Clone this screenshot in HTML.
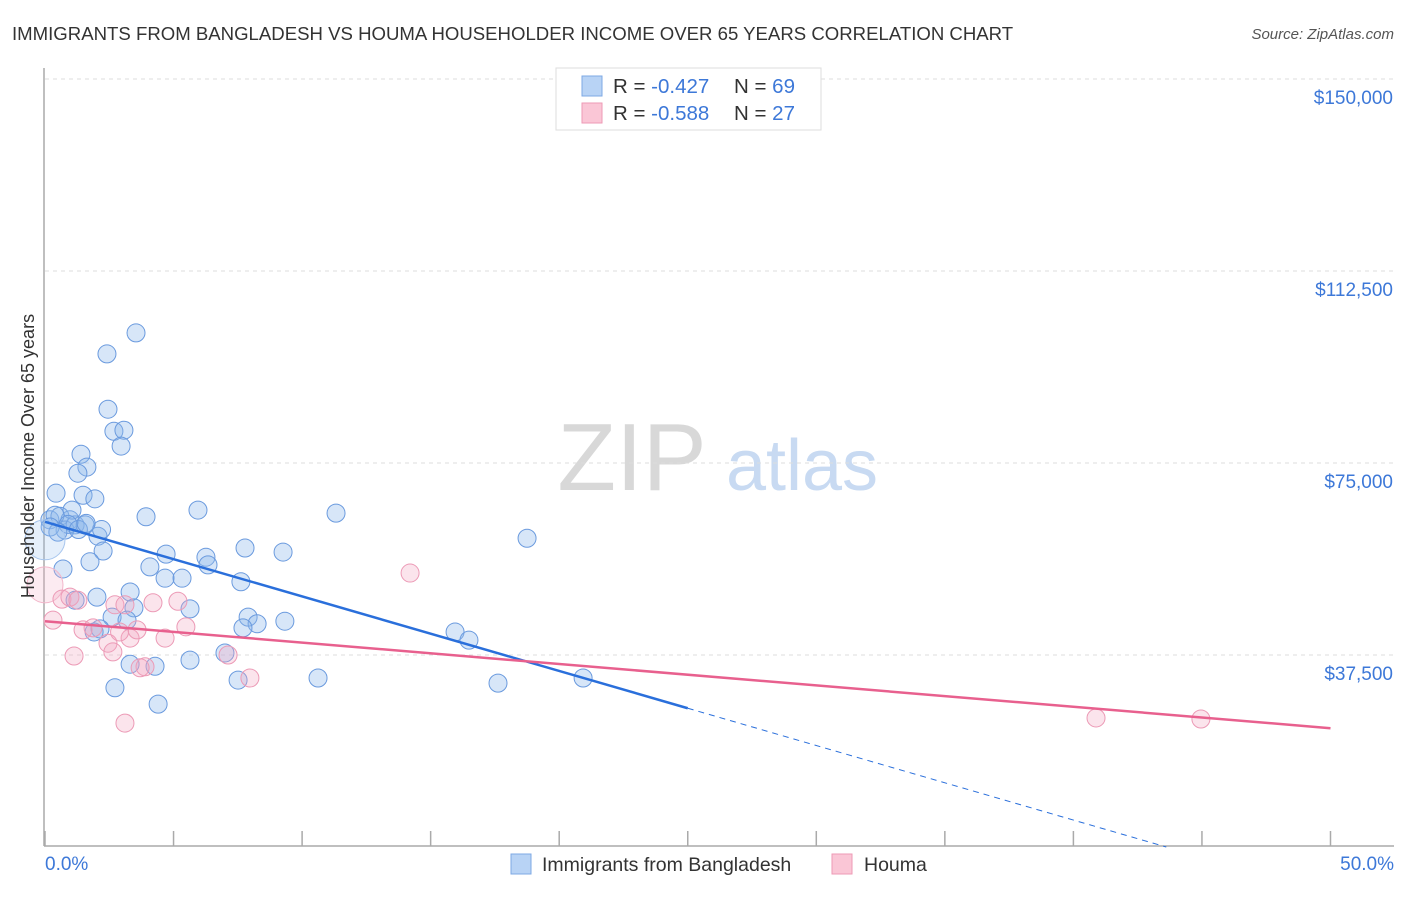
<!DOCTYPE html>
<html><head><meta charset="utf-8"><style>
body{margin:0;background:#fff;font-family:"Liberation Sans",sans-serif;}
svg text{font-family:"Liberation Sans",sans-serif;}
</style></head><body>
<svg id="c" width="1406" height="892">
<text x="12" y="40" font-size="18.6" fill="#333">IMMIGRANTS FROM BANGLADESH VS HOUMA HOUSEHOLDER INCOME OVER 65 YEARS CORRELATION CHART</text>
<text x="1394" y="39" font-size="15" fill="#555" font-style="italic" text-anchor="end">Source: ZipAtlas.com</text>
<g>
<text x="632" y="490" font-size="96" fill="#d8d8d8" font-family="Liberation Serif" text-anchor="middle">ZIP</text>
<text x="802" y="490" font-size="72" fill="#c8daf2" text-anchor="middle">atlas</text>
</g>
<g id="grid"></g><g id="axes"></g><g id="pts"></g><g id="lines"></g>
<text transform="translate(34,456) rotate(-90)" font-size="18" fill="#333" text-anchor="middle">Householder Income Over 65 years</text>
<text x="45" y="870" font-size="19" fill="#3d78d8">0.0%</text>
<text x="1394" y="870" font-size="19" fill="#3d78d8" text-anchor="end">50.0%</text>
<g>
<rect x="556" y="68" width="265" height="62" fill="#fff" stroke="#ddd"/>
<rect x="582" y="76" width="20" height="20" fill="#b8d3f5" stroke="#7ea8e4"/>
<rect x="582" y="103" width="20" height="20" fill="#fac6d6" stroke="#ee9ab5"/>
<text x="613" y="93" font-size="20.5" fill="#333">R = <tspan fill="#3d78d8">-0.427</tspan><tspan x="734">N = </tspan><tspan fill="#3d78d8">69</tspan></text>
<text x="613" y="120" font-size="20.5" fill="#333">R = <tspan fill="#3d78d8">-0.588</tspan><tspan x="734">N = </tspan><tspan fill="#3d78d8">27</tspan></text>
</g>
<g>
<rect x="511" y="854" width="20" height="20" fill="#b8d3f5" stroke="#7ea8e4"/>
<text x="542" y="871" font-size="19.5" fill="#333">Immigrants from Bangladesh</text>
<rect x="832" y="854" width="20" height="20" fill="#fac6d6" stroke="#ee9ab5"/>
<text x="864" y="871" font-size="19.5" fill="#333">Houma</text>
</g>
</svg>
<script>
const yTicks=[37500,75000,112500,150000];
const yTickLabels=["$37,500","$75,000","$112,500","$150,000"];
const blueX=[3.54,2.41,2.45,2.68,3.07,2.96,1.40,1.63,1.28,0.43,1.48,1.94,3.93,5.95,11.32,18.75,0.19,0.58,0.97,0.78,1.17,1.56,2.06,2.26,4.71,6.26,7.78,9.26,0.70,1.75,4.08,4.67,5.33,6.34,7.62,3.31,2.02,1.17,3.46,5.64,2.61,3.19,7.90,8.25,9.33,7.70,2.14,1.91,7.00,15.95,16.49,3.31,4.28,5.64,7.51,10.62,17.62,20.93,2.72,4.40,1.05,0.39,0.2,0.9,1.3,0.5,2.2,1.6,0.0];
const blueY=[100400,96300,85500,81200,81400,78300,76700,74200,73000,69100,68700,68000,64500,65800,65200,60300,63900,64600,63900,61900,62900,62900,60700,57800,57200,56600,58400,57600,54300,55700,54700,52500,52500,55100,51800,49800,48800,48200,46700,46500,44900,44300,44900,43600,44100,42800,42600,42000,37900,42000,40400,35700,35300,36500,32600,33000,32000,33000,31100,27900,65800,64800,62500,63000,62000,61500,62000,63200,60000];
const pinkX=[0,0.31,0.66,0.97,1.28,2.72,3.11,4.20,5.17,14.20,1.48,1.87,2.45,3.31,3.58,4.67,5.48,1.13,2.64,3.89,7.12,7.97,3.11,40.88,44.96,3.70,2.9];
const pinkY=[51200,44300,48400,48800,48200,47300,47300,47700,48000,53500,42400,42800,39800,40800,42400,40800,43000,37300,38100,35200,37500,33000,24200,25200,25000,35000,42000];
const blueTrend=[63500,27100];
const pinkTrend=[44100,23200];
const X=v=>45+v*25.71, Y=v=>847-v/195.3;
const NS="http://www.w3.org/2000/svg";
function mk(t,a,p){const e=document.createElementNS(NS,t);for(const k in a)e.setAttribute(k,a[k]);document.getElementById(p).appendChild(e);return e;}
yTicks.forEach((t,i)=>{
 const l=mk('line',{x1:45,x2:1394,y1:Y(t),y2:Y(t),stroke:'#ddd','stroke-dasharray':'4,4'},'grid');
 
 
 const tx=mk('text',{x:1393,y:Y(t)+25,'font-size':19,fill:'#3d78d8','text-anchor':'end'},'grid');
 tx.textContent=yTickLabels[i];
 
 
});
const topGrid=mk('line',{x1:45,x2:1394,y1:79,y2:79,stroke:'#ddd','stroke-dasharray':'4,4'},'grid');


const ya=mk('line',{x1:44,x2:44,y1:68,y2:846,stroke:'#aaa','stroke-width':1.5},'axes');


const xa=mk('line',{x1:44,x2:1394,y1:846,y2:846,stroke:'#aaa','stroke-width':1.5},'axes');


for(let i=0;i<=10;i++){const t=mk('line',{x1:X(i*5),x2:X(i*5),y1:831,y2:846,stroke:'#aaa','stroke-width':1.5},'axes');
 
 }
blueX.forEach((x,i)=>{const big=(x===0);const c=mk('circle',{cx:X(x),cy:Y(blueY[i]),r:big?20:9,fill:big?'rgba(150,190,240,0.25)':'rgba(140,182,236,0.35)',stroke:big?'#a8c6ee':'#6a9ade','stroke-width':1},'pts');
 
 });
pinkX.forEach((x,i)=>{const big=(x===0);const c=mk('circle',{cx:X(x),cy:Y(pinkY[i]),r:big?18:9,fill:big?'rgba(245,175,200,0.25)':'rgba(242,165,192,0.3)',stroke:big?'#f2b6ca':'#ec9ab6','stroke-width':1},'pts');
 
 });
const slope=(blueTrend[1]-blueTrend[0])/25;
const b1=mk('line',{x1:X(0),y1:Y(blueTrend[0]),x2:X(25),y2:Y(blueTrend[1]),stroke:'#2a6fdb','stroke-width':2.5},'lines');


const xe=-blueTrend[0]/slope;
const b2=mk('line',{x1:X(25),y1:Y(blueTrend[1]),x2:X(xe),y2:Y(0),stroke:'#2a6fdb','stroke-width':1,'stroke-dasharray':'6,5'},'lines');


const p1=mk('line',{x1:X(0),y1:Y(pinkTrend[0]),x2:X(50),y2:Y(pinkTrend[1]),stroke:'#e8608e','stroke-width':2.5},'lines');


</script>
</body></html>
